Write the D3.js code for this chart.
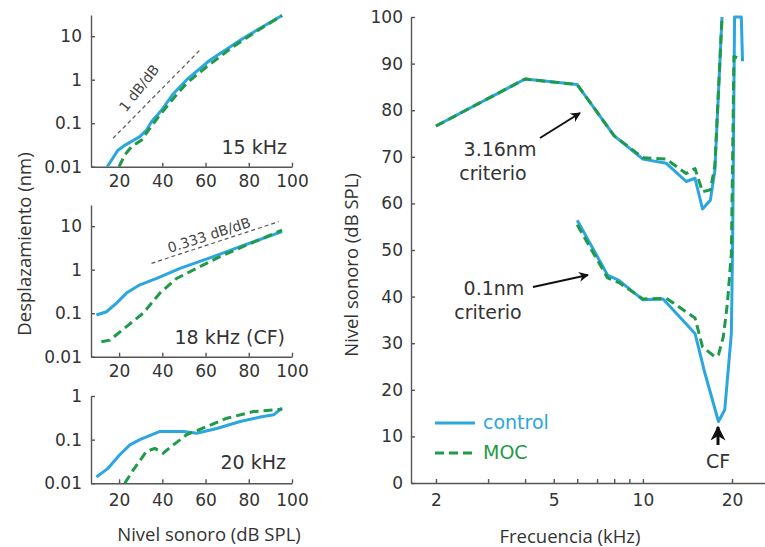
<!DOCTYPE html>
<html><head><meta charset="utf-8">
<script src="https://cdn.jsdelivr.net/npm/d3@7"></script>
<style>
body{margin:0;background:#fff;}
svg{display:block;}
.tick text{font-family:"DejaVu Sans",sans-serif;font-size:17px;fill:#333;}
.domain,.tick line{stroke:#555;stroke-width:1.4;}
</style></head><body>
<svg id="c" width="765" height="547"></svg>
<script>
// ---------- DATA ----------
// Left panels: displacement (nm) vs sound level (dB SPL)
const p15CtrlLevel = [14.5, 19.5, 22.6, 29.6, 32.7, 35, 39.7, 45, 51.3, 62, 76, 80, 95.4];
const p15CtrlDisp  = [0.01, 0.024, 0.031, 0.049, 0.07, 0.108, 0.2, 0.47, 1.0, 2.8, 8.1, 10.7, 30];
const p15MocLevel  = [20, 22.6, 25.8, 30.4, 34.2, 38.9, 45.1, 51.3, 60.6, 72.9, 82.2, 95.4];
const p15MocDisp   = [0.01, 0.0186, 0.029, 0.041, 0.076, 0.155, 0.37, 0.83, 2.0, 5.8, 11.7, 30];
const p15RefLevel  = [17.2, 57.4];
const p15RefDisp   = [0.045, 4.8];

const p18CtrlLevel = [9.5, 14.2, 18.8, 23.4, 29.6, 37.4, 48.2, 63.6, 76, 95.4];
const p18CtrlDisp  = [0.091, 0.108, 0.17, 0.29, 0.45, 0.63, 1.07, 2.0, 3.4, 7.5];
const p18MocLevel  = [11.8, 15.7, 23.4, 31.1, 38.9, 46.6, 57.4, 66.7, 79.1, 95.4];
const p18MocDisp   = [0.022, 0.024, 0.049, 0.1, 0.29, 0.63, 1.17, 2.0, 3.7, 8.1];
const p18RefLevel  = [35, 93.8];
const p18RefDisp   = [1.4, 12.7];

const p20CtrlLevel = [9.5, 14.9, 20.3, 25, 29.6, 38.9, 49.7, 55.9, 65.2, 76, 85.3, 91.5, 95.4];
const p20CtrlDisp  = [0.014, 0.022, 0.045, 0.076, 0.10, 0.154, 0.154, 0.14, 0.18, 0.26, 0.33, 0.37, 0.53];
const p20MocLevel  = [22.6, 26.5, 32.7, 36.6, 40.4, 45.1, 51.3, 60.6, 69.9, 82.2, 95.4];
const p20MocDisp   = [0.01, 0.02, 0.054, 0.063, 0.049, 0.076, 0.13, 0.2, 0.31, 0.44, 0.5];

const levelTicks = [20, 40, 60, 80, 100];
const dispTicks  = [0.01, 0.1, 1, 10];
const dispTickLabels = ["0.01", "0.1", "1", "10"];

// Right panel: threshold level (dB SPL) vs frequency (kHz)
const hiCtrlFreq  = [2, 4, 6, 8, 10, 12, 14, 15, 15.9, 16.9, 17.5, 18.5];
const hiCtrlLevel = [76.6, 86.7, 85.5, 74.5, 69.5, 68.6, 64.7, 65.4, 58.8, 60.7, 67, 100];
const hiMocFreq   = [2, 4, 6, 8, 10, 12, 14, 15, 15.9, 16.9, 17.5, 18.5];
const hiMocLevel  = [76.6, 86.7, 85.5, 74.5, 69.8, 69.5, 66.4, 67.5, 62.5, 62.9, 68, 100];

const loCtrlFreq  = [6, 7.6, 8.3, 10, 11.7, 15, 16.1, 18, 18.9, 19.9, 20.1, 20.4, 21.5, 21.7];
const loCtrlLevel = [56.4, 44.6, 43.5, 39.3, 39.5, 32.1, 24.2, 13.2, 15.7, 32.1, 52, 100, 100, 90.5];
const loMocFreq   = [6, 7.6, 8.3, 10, 12, 12.7, 15, 15.9, 17.5, 18, 18.7, 19.3, 19.9, 20.3, 21.7];
const loMocLevel  = [55.4, 44, 43, 39.5, 39.6, 38.6, 35.4, 29.2, 27.1, 27.5, 31.4, 38.6, 49.3, 91.5, 91];

const freqTicks = [2, 3, 4, 5, 6, 7, 8, 9, 10, 20];
const freqLabels = {2: "2", 5: "5", 10: "10", 20: "20"};
const splTicks = [0, 10, 20, 30, 40, 50, 60, 70, 80, 90, 100];

// ---------- DRAW ----------
const BLUE = "#2ba6de", GREEN = "#1f9a48";
const svg = d3.select("#c");
const defs = svg.append("defs");
defs.append("marker").attr("id", "ah").attr("viewBox", "0 0 10 10").attr("refX", 9).attr("refY", 5)
  .attr("markerWidth", 5).attr("markerHeight", 5).attr("orient", "auto")
  .append("path").attr("d", "M0,0 L10,5 L0,10 L3,5 Z").attr("fill", "#111");

const zip = (a, b) => a.map((v, i) => [v, b[i]]);

const xL = d3.scaleLinear().domain([7, 100]).range([91, 292]);

function panel(id, yBottom, yTop, topVal, ctrl, moc, label, labelPos, padX) {
  const y = d3.scaleLog().domain([0.01, topVal]).range([yBottom, yTop]);
  const g = svg.append("g");
  defs.append("clipPath").attr("id", id).append("rect")
    .attr("x", 91).attr("y", yTop - 2).attr("width", 210).attr("height", yBottom - yTop + 2);
  g.append("g").attr("transform", `translate(0,${yBottom})`)
    .call(d3.axisBottom(xL).tickValues(levelTicks).tickSize(-4).tickSizeOuter(0).tickPadding(padX));
  const tv = dispTicks.filter(t => t <= topVal * 1.0001);
  g.append("g").attr("transform", "translate(91,0)")
    .call(d3.axisLeft(y).tickValues(tv).tickFormat(d => dispTickLabels[dispTicks.indexOf(d)]).tickSize(-4).tickSizeOuter(0).tickPadding(9));
  const line = d3.line().x(d => xL(d[0])).y(d => y(d[1]));
  const pg = g.append("g").attr("clip-path", `url(#${id})`);
  pg.append("path").datum(ctrl).attr("d", line).attr("fill", "none").attr("stroke", BLUE).attr("stroke-width", 3).attr("stroke-linejoin", "round");
  pg.append("path").datum(moc).attr("d", line).attr("fill", "none").attr("stroke", GREEN).attr("stroke-width", 3).attr("stroke-dasharray", "9,5");
  g.append("text").attr("x", labelPos[0]).attr("y", labelPos[1]).attr("text-anchor", "end").attr("dominant-baseline", "central")
    .attr("font-family", "DejaVu Sans").attr("font-size", 19).attr("fill", "#333").text(label);
  return {g, y, line};
}

const P1 = panel("cp1", 166.7, 15, 30.7, zip(p15CtrlLevel, p15CtrlDisp), zip(p15MocLevel, p15MocDisp), "15 kHz", [287, 147], 8);
P1.g.append("path").datum(zip(p15RefLevel, p15RefDisp)).attr("d", P1.line).attr("fill", "none")
  .attr("stroke", "#555").attr("stroke-width", 1.2).attr("stroke-dasharray", "4,3");
P1.g.append("text").attr("transform", "translate(139,88) rotate(-52)").attr("text-anchor", "middle").attr("dominant-baseline", "central")
  .attr("font-family", "DejaVu Sans").attr("font-size", 14).attr("fill", "#444").text("1 dB/dB");

const P2 = panel("cp2", 356.7, 205, 30.7, zip(p18CtrlLevel, p18CtrlDisp), zip(p18MocLevel, p18MocDisp), "18 kHz (CF)", [285, 337], 8);
P2.g.append("path").datum(zip(p18RefLevel, p18RefDisp)).attr("d", P2.line).attr("fill", "none")
  .attr("stroke", "#555").attr("stroke-width", 1.2).attr("stroke-dasharray", "4,3");
P2.g.append("text").attr("transform", "translate(209,235) rotate(-18)").attr("text-anchor", "middle").attr("dominant-baseline", "central")
  .attr("font-family", "DejaVu Sans").attr("font-size", 14).attr("fill", "#444").text("0.333 dB/dB");

const P3 = panel("cp3", 483.3, 396, 1, zip(p20CtrlLevel, p20CtrlDisp), zip(p20MocLevel, p20MocDisp), "20 kHz", [286, 462], 11);

svg.append("text").attr("transform", "translate(23,244) rotate(-90)").attr("text-anchor", "middle").attr("dominant-baseline", "central")
  .attr("font-family", "Open Sans").attr("font-size", 18.5).attr("fill", "#333").text("Desplazamiento (nm)");
svg.append("text").attr("x", 209).attr("y", 533).attr("text-anchor", "middle").attr("dominant-baseline", "central")
  .attr("font-family", "Open Sans").attr("font-size", 18.5).attr("fill", "#333").text("Nivel sonoro (dB SPL)");

// Right panel
const xR = d3.scaleLog().domain([1.647, 25.85]).range([411, 765]);
const yR = d3.scaleLinear().domain([0, 100]).range([483, 17]);
const gR = svg.append("g");
gR.append("g").attr("transform", "translate(0,483)")
  .call(d3.axisBottom(xR).tickValues(freqTicks).tickFormat(d => freqLabels[d] || "").tickSize(-4).tickSizeOuter(0).tickPadding(11));
gR.append("g").attr("transform", "translate(411,0)")
  .call(d3.axisLeft(yR).tickValues(splTicks).tickSize(-4).tickSizeOuter(0).tickPadding(8));
defs.append("clipPath").attr("id", "cpR").append("rect").attr("x", 411).attr("y", 15).attr("width", 354).attr("height", 468);
const lineR = d3.line().x(d => xR(d[0])).y(d => yR(d[1]));
const pR = gR.append("g").attr("clip-path", "url(#cpR)");
[[zip(hiCtrlFreq, hiCtrlLevel), BLUE, null], [zip(loCtrlFreq, loCtrlLevel), BLUE, null],
 [zip(hiMocFreq, hiMocLevel), GREEN, "9,5"], [zip(loMocFreq, loMocLevel), GREEN, "9,5"]].forEach(([d, c, da]) => {
  pR.append("path").datum(d).attr("d", lineR).attr("fill", "none").attr("stroke", c).attr("stroke-width", 3)
    .attr("stroke-linejoin", "round").attr("stroke-dasharray", da);
});

function txt(x, y, s, size, color, anchor) {
  svg.append("text").attr("x", x).attr("y", y).attr("text-anchor", anchor || "middle").attr("dominant-baseline", "central")
    .attr("font-family", "DejaVu Sans").attr("font-size", size).attr("fill", color || "#333").text(s);
}
txt(500, 149, "3.16nm", 19);
txt(493, 173, "criterio", 19);
txt(494, 288, "0.1nm", 19);
txt(488, 312, "criterio", 19);
function arrow(x1, y1, x2, y2, w) {
  svg.append("line").attr("x1", x1).attr("y1", y1).attr("x2", x2).attr("y2", y2)
    .attr("stroke", "#111").attr("stroke-width", w || 2).attr("marker-end", "url(#ah)");
}
arrow(540, 138, 580, 113);
arrow(533, 287, 588, 275);
arrow(718, 445, 718, 427, 3);
txt(718, 461, "CF", 19);

// legend
svg.append("line").attr("x1", 435).attr("x2", 475).attr("y1", 423).attr("y2", 423).attr("stroke", BLUE).attr("stroke-width", 3);
svg.append("line").attr("x1", 435).attr("x2", 475).attr("y1", 453).attr("y2", 453).attr("stroke", GREEN).attr("stroke-width", 3).attr("stroke-dasharray", "9,5");
txt(483, 422, "control", 19, BLUE, "start");
txt(483, 452, "MOC", 19, GREEN, "start");

svg.append("text").attr("transform", "translate(350,265) rotate(-90)").attr("text-anchor", "middle").attr("dominant-baseline", "central")
  .attr("font-family", "Open Sans").attr("font-size", 18.5).attr("fill", "#333").text("Nivel sonoro (dB SPL)");
svg.append("text").attr("x", 570).attr("y", 535).attr("text-anchor", "middle").attr("dominant-baseline", "central")
  .attr("font-family", "Open Sans").attr("font-size", 18.5).attr("fill", "#333").text("Frecuencia (kHz)");
</script></body></html>
